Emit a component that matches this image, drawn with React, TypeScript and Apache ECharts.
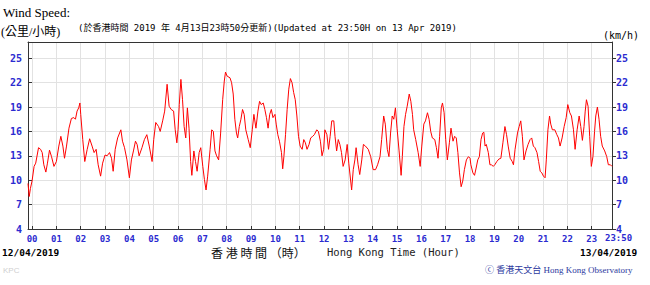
import React, { useEffect, useRef } from "react";
import * as echarts from "echarts";

// minutes from 00:00 on 13/04/2019
const times = [
  -10, -7, -4, 0, 5, 9, 16, 21, 25, 29, 34, 38, 43, 48, 54, 60, 66, 71, 76, 80, 85, 91, 97, 103, 107, 111, 115, 118, 120, 125, 130, 136, 142, 148, 153, 158, 163, 169, 174, 180, 185, 191, 196, 200, 205, 211, 219, 223, 228, 234, 240, 245, 250, 255, 259, 264, 271, 277, 283, 289, 296, 300, 305, 312, 316, 322, 327, 333, 338, 343, 349, 353, 357,
  360, 363, 367, 371, 375, 379, 383, 387, 391, 394, 399, 403, 407, 412, 416, 421, 425, 429, 433, 439, 443, 447, 451, 455, 460, 465, 470, 474, 477, 481, 488, 492, 496, 500, 504, 507, 511, 515, 519, 523, 527, 533, 538, 543, 547, 552, 557, 561, 565, 570, 574, 578, 582, 586, 590, 594, 599, 602, 606, 610, 615, 618, 621, 625, 629, 633, 637, 641, 645, 649, 653, 657, 661, 666, 670, 674, 678, 683, 687, 692, 696, 702, 706, 711, 715, 719,
  722, 727, 731, 735, 739, 744, 747, 751, 755, 759, 763, 767, 772, 777, 781, 788, 792, 796, 799, 804, 808, 813, 817, 822, 829, 835, 841, 847, 852, 858, 862, 867, 871, 876, 880, 884, 888, 892, 896, 900, 905, 910, 913, 917, 921, 925, 930, 934, 938, 941, 946, 952, 957, 961, 966, 970, 975, 979, 983, 987, 993, 997, 1001, 1005, 1009, 1012, 1016, 1020, 1024, 1029, 1033, 1038, 1042, 1046, 1050, 1054, 1058, 1062, 1066, 1071, 1076,
  1080, 1082, 1087, 1091, 1095, 1099, 1103, 1107, 1111, 1114, 1117, 1120, 1125, 1129, 1133, 1137, 1141, 1146, 1151, 1156, 1161, 1166, 1170, 1174, 1179, 1184, 1187, 1191, 1197, 1201, 1205, 1209, 1213, 1218, 1223, 1228, 1232, 1236, 1240, 1245, 1249, 1253, 1257, 1261, 1265, 1268, 1272, 1276, 1279, 1283, 1289, 1294, 1298, 1302, 1307, 1312, 1317, 1321, 1326, 1330, 1335, 1339, 1344, 1349, 1353, 1357, 1361, 1364, 1367, 1371, 1375, 1379, 1383, 1387, 1390, 1394, 1398, 1402, 1406, 1412, 1417, 1421, 1426, 1430,
];

// wind speed, km/h
const speeds = [
  9.6, 8.0, 9.0, 9.9, 11.7, 12.1, 14.0, 13.8, 13.4, 11.9, 11.0, 12.1, 13.7, 12.9, 11.7, 12.3, 14.2, 15.4, 14.2, 12.7, 14.2, 16.4, 17.6, 17.7, 17.5, 18.5, 18.9, 19.5, 18.1, 15.0, 12.3, 13.8, 15.1, 14.2, 13.4, 13.8, 11.9, 10.5, 12.1, 13.1, 13.0, 13.4, 12.7, 11.1, 13.8, 15.2, 16.2, 14.8, 14.0, 12.5, 10.3, 12.5, 13.6, 14.8, 14.4, 13.0, 14.0, 15.0, 15.6, 14.2, 12.3, 15.0, 17.1, 16.6, 16.0, 17.3, 18.5, 21.8, 19.1, 18.7, 18.5, 16.2, 14.6,
  16.2, 19.3, 22.4, 19.9, 16.6, 15.2, 18.9, 16.4, 12.3, 10.6, 13.6, 12.3, 11.1, 13.4, 14.0, 11.7, 10.1, 8.8, 10.5, 13.8, 16.2, 16.0, 13.6, 13.0, 12.5, 15.8, 19.9, 22.2, 23.3, 22.8, 22.6, 22.0, 20.6, 17.5, 15.8, 15.2, 16.6, 17.5, 18.7, 18.1, 16.2, 15.0, 14.0, 16.2, 18.1, 16.4, 18.5, 19.7, 19.3, 19.5, 18.7, 17.7, 16.4, 18.1, 18.7, 17.7, 18.1, 16.9, 15.6, 14.8, 13.4, 11.4, 12.9, 15.6, 18.7, 21.2, 22.5, 22.0, 20.8, 19.9, 17.9, 15.4, 14.2, 13.8, 15.0, 14.6, 13.8, 14.4, 15.2, 15.4, 15.6, 16.2, 16.0, 14.8, 13.0, 13.8,
  16.2, 15.6, 13.8, 15.4, 17.3, 17.3, 15.4, 13.6, 15.0, 14.4, 13.4, 11.7, 12.5, 14.4, 12.1, 8.8, 11.3, 12.5, 14.0, 11.9, 10.7, 12.5, 14.4, 14.2, 13.8, 12.9, 11.3, 11.3, 11.9, 12.9, 15.0, 17.9, 16.9, 13.8, 12.9, 15.8, 17.9, 17.5, 18.9, 16.4, 13.6, 10.6, 12.9, 16.6, 18.1, 19.1, 20.6, 19.7, 18.1, 16.2, 15.0, 13.4, 11.7, 14.2, 16.9, 17.3, 18.3, 17.5, 16.0, 15.2, 15.0, 14.0, 12.7, 15.4, 18.9, 19.5, 18.3, 15.0, 12.5, 14.6, 16.4, 14.8, 15.4, 15.2, 13.4, 10.9, 9.2, 9.9, 11.3, 12.5, 12.9,
  12.7, 11.9, 10.9, 10.6, 11.5, 12.5, 12.9, 15.0, 15.8, 15.9, 14.2, 14.4, 13.4, 11.9, 11.9, 11.7, 11.9, 12.3, 12.6, 12.7, 14.6, 16.6, 15.6, 14.2, 12.7, 12.3, 11.9, 13.8, 15.8, 16.6, 17.3, 15.4, 12.5, 13.6, 14.4, 15.0, 15.2, 14.2, 14.0, 13.4, 12.3, 11.1, 10.9, 10.5, 10.3, 12.5, 16.2, 17.9, 16.9, 16.2, 16.2, 15.6, 15.2, 14.2, 15.2, 16.6, 17.7, 19.3, 18.3, 17.9, 16.2, 13.8, 16.2, 17.9, 16.6, 14.9, 16.6, 18.5, 19.9, 19.1, 15.4, 11.7, 12.9, 16.0, 17.9, 19.0, 17.5, 15.4, 14.2, 13.6, 12.9, 11.9, 11.9, 11.7,
];

const hourTicks = [0, 60, 120, 180, 240, 300, 360, 420, 480, 540, 600, 660, 720, 780, 840, 900, 960, 1020, 1080, 1140, 1200, 1260, 1320, 1380];
const hourLabels = ["00", "01", "02", "03", "04", "05", "06", "07", "08", "09", "10", "11", "12", "13", "14", "15", "16", "17", "18", "19", "20", "21", "22", "23"];
const yTicks = [4, 7, 10, 13, 16, 19, 22, 25];

const BLUE = "#2b2bd0";
const FRAME = "#333";
const MONO = "'DejaVu Sans Mono', 'Liberation Mono', monospace";

export default function App() {
  const ref = useRef<HTMLDivElement>(null);
  useEffect(() => {
    if (!ref.current) return;
    const chart = echarts.init(ref.current, null, { renderer: "svg" });
    const data = times.map((t, i) => [t, speeds[i]]);
    const txt = (text: string, x: number, y: number, font: string, fill: string, align = "left") => ({
      type: "text",
      x,
      y,
      style: { text, x: 0, y: 0, font, fill, textAlign: align, textVerticalAlign: "middle", verticalAlign: "middle" },
    });
    chart.setOption({
      animation: false,
      backgroundColor: "#fff",
      grid: { left: 28, right: 38, top: 42, bottom: 56 },
      xAxis: [
        {
          type: "value",
          min: -10,
          max: 1430,
          position: "bottom",
          axisLine: { show: true, onZero: false, lineStyle: { color: FRAME, width: 1 } },
          axisTick: { show: true, inside: true, length: 3, customValues: hourTicks, lineStyle: { color: FRAME } },
          axisLabel: {
            customValues: hourTicks,
            formatter: (v: number) => hourLabels[Math.round(v / 60)] ?? "",
            color: BLUE,
            fontFamily: MONO,
            fontWeight: "bold",
            fontSize: 9,
            margin: 5,
          },
          splitLine: { show: true, lineStyle: { color: "#e2e2e2", width: 1 } },
        },
        {
          type: "value",
          min: -10,
          max: 1430,
          position: "top",
          axisLine: { show: true, onZero: false, lineStyle: { color: FRAME, width: 1 } },
          axisTick: { show: false },
          axisLabel: { show: false },
          splitLine: { show: false },
        },
      ],
      yAxis: [
        {
          type: "value",
          min: 4,
          max: 27,
          position: "left",
          axisLine: { show: true, onZero: false, lineStyle: { color: FRAME, width: 1 } },
          axisTick: { show: true, inside: true, length: 4, customValues: yTicks, lineStyle: { color: FRAME } },
          axisLabel: { customValues: yTicks, color: BLUE, fontFamily: MONO, fontWeight: "bold", fontSize: 10, margin: 6 },
          splitLine: { show: true, lineStyle: { color: "#e2e2e2", width: 1 } },
        },
        {
          type: "value",
          min: 4,
          max: 27,
          position: "right",
          axisLine: { show: true, onZero: false, lineStyle: { color: FRAME, width: 1 } },
          axisTick: { show: true, inside: false, length: 4, customValues: yTicks, lineStyle: { color: FRAME } },
          axisLabel: { customValues: yTicks, color: BLUE, fontFamily: MONO, fontWeight: "bold", fontSize: 10, margin: 4 },
          splitLine: { show: false },
        },
        {
          type: "value",
          min: 4,
          max: 27,
          position: "right",
          axisLine: { show: false },
          axisTick: { show: true, inside: true, length: 4, customValues: yTicks, lineStyle: { color: FRAME } },
          axisLabel: { show: false },
          splitLine: { show: false },
        },
      ],
      series: [
        {
          type: "line",
          xAxisIndex: 0,
          yAxisIndex: 0,
          data,
          showSymbol: false,
          symbol: "none",
          lineStyle: { color: "#ff0000", width: 1 },
          silent: true,
        },
      ],
      graphic: [
        txt("Wind Speed:", 3, 12, "13px 'Liberation Serif', serif", "#000"),
        txt("(公里/小時)", 1, 32, "12px 'Liberation Serif', 'Noto Sans CJK TC', serif", "#000"),
        txt("(於香港時間 2019 年 4月13日23時50分更新)(Updated at 23:50H on 13 Apr 2019)", 78, 28, `9px ${MONO}, 'Noto Sans CJK TC'`, "#000"),
        txt("(km/h)", 603, 35, `10px ${MONO}`, "#000"),
        txt("23:50", 605, 238, `bold 9px ${MONO}`, BLUE),
        txt("12/04/2019", 2, 252, `bold 9.5px ${MONO}`, "#000"),
        txt("13/04/2019", 580, 252, `bold 9.5px ${MONO}`, "#000"),
        txt("香 港 時 間 （時）", 211, 252, "12px 'Noto Sans CJK TC', serif", "#111"),
        txt("Hong Kong Time (Hour)", 327, 252, `10.5px ${MONO}`, "#222"),
        txt("ⓒ 香港天文台 Hong Kong Observatory", 485, 270, "9px 'Liberation Serif', 'Noto Sans CJK TC', serif", "#2d3a9e"),
        txt("KPC", 3, 270, "8px 'Liberation Sans', sans-serif", "#cfcfcf"),
      ],
    });
    return () => chart.dispose();
  }, []);
  return (
    <div
      ref={ref}
      style={{ position: "fixed", left: 0, top: 0, width: 650, height: 285, background: "#fff" }}
    />
  );
}
